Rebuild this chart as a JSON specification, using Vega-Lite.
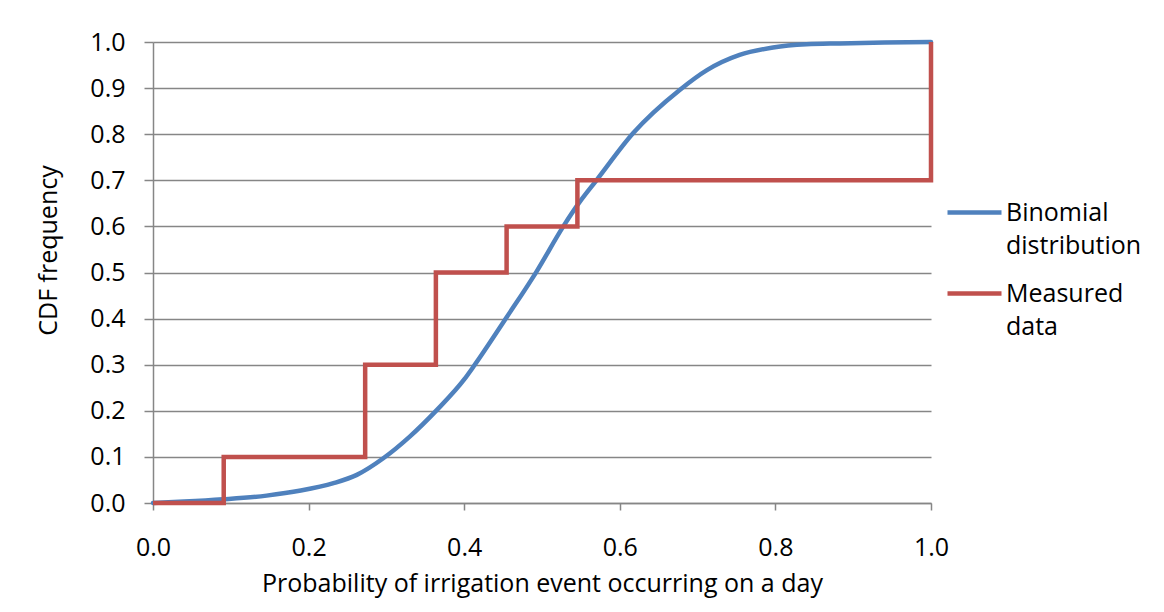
{
  "$schema": "https://vega.github.io/schema/vega-lite/v6.json",
  "autosize": {"type": "none"},
  "width": 778,
  "height": 461,
  "padding": {"left": 153, "top": 42, "right": 233, "bottom": 109},
  "background": "white",
  "config": {
    "font": "Open Sans",
    "view": {"stroke": null},
    "style": {"guide-label": {"lineHeight": 33}}
  },
  "datasets": {
    "binomial": [
      {"x": 0.0, "y": 0.0},
      {"x": 0.04, "y": 0.003},
      {"x": 0.09, "y": 0.008},
      {"x": 0.146, "y": 0.016},
      {"x": 0.19, "y": 0.027},
      {"x": 0.232, "y": 0.043},
      {"x": 0.262, "y": 0.061},
      {"x": 0.296, "y": 0.097},
      {"x": 0.33, "y": 0.144},
      {"x": 0.365, "y": 0.202},
      {"x": 0.40, "y": 0.268},
      {"x": 0.412, "y": 0.296},
      {"x": 0.455, "y": 0.404},
      {"x": 0.493, "y": 0.502},
      {"x": 0.527, "y": 0.599},
      {"x": 0.548, "y": 0.652},
      {"x": 0.57, "y": 0.70},
      {"x": 0.617, "y": 0.802},
      {"x": 0.677, "y": 0.896},
      {"x": 0.712, "y": 0.939},
      {"x": 0.754, "y": 0.972},
      {"x": 0.797, "y": 0.988},
      {"x": 0.84, "y": 0.995},
      {"x": 0.883, "y": 0.997},
      {"x": 0.94, "y": 0.999},
      {"x": 1.0, "y": 1.0}
    ],
    "measured": [
      {"i": 0, "x": 0.0, "y": 0.0},
      {"i": 1, "x": 0.0909, "y": 0.0},
      {"i": 2, "x": 0.0909, "y": 0.1},
      {"i": 3, "x": 0.2727, "y": 0.1},
      {"i": 4, "x": 0.2727, "y": 0.3},
      {"i": 5, "x": 0.3636, "y": 0.3},
      {"i": 6, "x": 0.3636, "y": 0.5},
      {"i": 7, "x": 0.4545, "y": 0.5},
      {"i": 8, "x": 0.4545, "y": 0.6},
      {"i": 9, "x": 0.5455, "y": 0.6},
      {"i": 10, "x": 0.5455, "y": 0.7},
      {"i": 11, "x": 1.0, "y": 0.7},
      {"i": 12, "x": 1.0, "y": 1.0}
    ]
  },
  "encoding": {
    "x": {
      "field": "x", "type": "quantitative",
      "scale": {"domain": [0, 1], "nice": false, "zero": false},
      "axis": {
        "title": "Probability of irrigation event occurring on a day",
        "values": [0, 0.2, 0.4, 0.6, 0.8, 1.0],
        "format": ".1f",
        "grid": false,
        "labelFlush": false,
        "domainColor": "#868686", "domainWidth": 1.5,
        "tickColor": "#868686", "tickWidth": 1.5, "tickSize": 7,
        "labelFontSize": 25, "labelColor": "#000000", "labelPadding": 25,
        "labelFont": "Open Sans",
        "titleFontSize": 25, "titleFontWeight": "normal", "titleColor": "#000000",
        "titleFont": "Open Sans",
        "titleY": 80, "titleBaseline": "middle"
      }
    },
    "y": {
      "field": "y", "type": "quantitative",
      "scale": {"domain": [0, 1], "nice": false},
      "axis": {
        "title": "CDF frequency",
        "values": [0, 0.1, 0.2, 0.3, 0.4, 0.5, 0.6, 0.7, 0.8, 0.9, 1.0],
        "format": ".1f",
        "grid": true, "gridColor": "#868686", "gridWidth": 1.5,
        "labelFlush": false,
        "domainColor": "#868686", "domainWidth": 1.5,
        "tickColor": "#868686", "tickWidth": 1.5, "tickSize": 9,
        "labelFontSize": 25, "labelColor": "#000000", "labelPadding": 19,
        "labelFont": "Open Sans",
        "titleFontSize": 25, "titleFontWeight": "normal", "titleColor": "#000000",
        "titleFont": "Open Sans",
        "titleX": -105, "titleY": 208, "titleBaseline": "middle"
      }
    },
    "color": {
      "field": "series", "type": "nominal",
      "scale": {"domain": ["Binomial distribution", "Measured data"], "range": ["#4F81BD", "#C0504D"]},
      "legend": {
        "title": null,
        "orient": "none",
        "legendX": 792,
        "legendY": 141,
        "symbolType": "stroke",
        "symbolSize": 2916,
        "symbolStrokeWidth": 4.5,
        "labelFontSize": 25,
        "labelFont": "Open Sans",
        "labelColor": "#000000",
        "labelLimit": 300,
        "labelOffset": 2,
        "rowPadding": 5,
        "labelExpr": "datum.label == 'Binomial distribution' ? ['Binomial', 'distribution'] : ['Measured', 'data']"
      }
    }
  },
  "layer": [
    {
      "data": {"name": "binomial"},
      "transform": [{"calculate": "'Binomial distribution'", "as": "series"}],
      "mark": {"type": "line", "interpolate": "monotone", "strokeWidth": 4.5, "strokeCap": "round"}
    },
    {
      "data": {"name": "measured"},
      "transform": [{"calculate": "'Measured data'", "as": "series"}],
      "mark": {"type": "line", "strokeWidth": 4.5, "strokeJoin": "miter"},
      "encoding": {"order": {"field": "i", "type": "quantitative"}}
    }
  ]
}
